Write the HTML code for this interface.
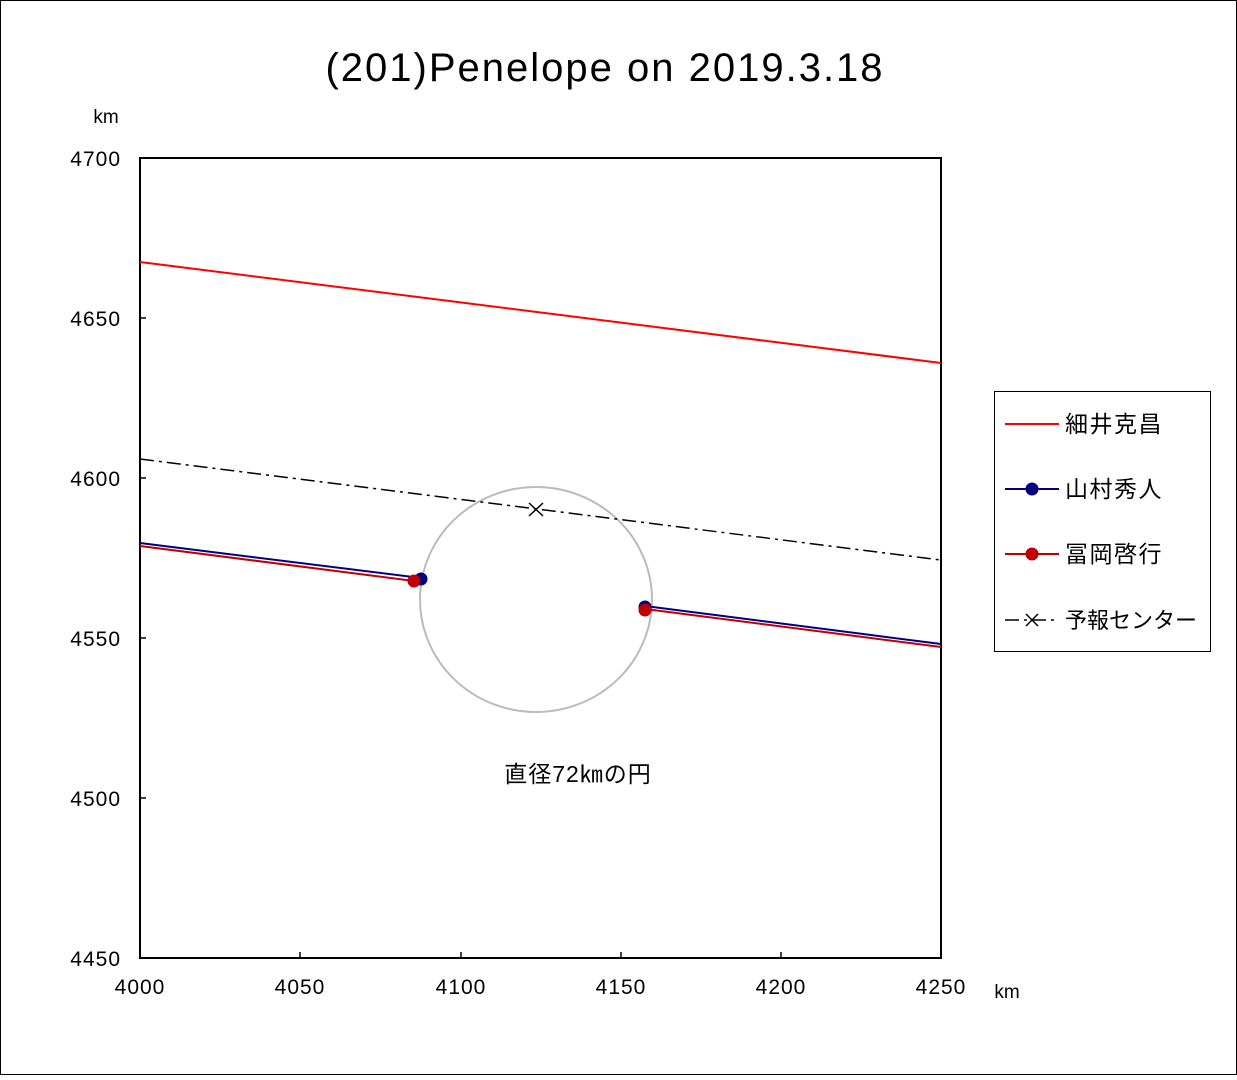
<!DOCTYPE html>
<html><head><meta charset="utf-8"><style>
html,body{margin:0;padding:0;background:#fff}
</style></head><body>
<svg width="1237" height="1075" xmlns="http://www.w3.org/2000/svg" font-family="'Liberation Sans','Noto Sans CJK JP',sans-serif">
<rect x="0.5" y="0.5" width="1236" height="1074" fill="#fff" stroke="#000"/>
<text x="605" y="81" font-size="40" text-anchor="middle" letter-spacing="2">(201)Penelope on 2019.3.18</text>
<text x="106" y="123" font-size="19" text-anchor="middle">km</text>
<text x="1007" y="998" font-size="19" text-anchor="middle">km</text>
<rect x="140" y="158" width="801" height="800" fill="none" stroke="#000" stroke-width="2"/>
<g font-size="21" text-anchor="end" letter-spacing="1">
<text x="121" y="166">4700</text><text x="121" y="326">4650</text><text x="121" y="486">4600</text>
<text x="121" y="646">4550</text><text x="121" y="806">4500</text><text x="121" y="966">4450</text>
</g>
<g font-size="21" text-anchor="middle" letter-spacing="1">
<text x="140" y="994">4000</text><text x="300" y="994">4050</text><text x="461" y="994">4100</text>
<text x="621" y="994">4150</text><text x="781" y="994">4200</text><text x="941" y="994">4250</text>
</g>
<g stroke="#000" stroke-width="1.5">
<line x1="140" y1="318" x2="146" y2="318"/><line x1="140" y1="478" x2="146" y2="478"/>
<line x1="140" y1="638" x2="146" y2="638"/><line x1="140" y1="798" x2="146" y2="798"/>
<line x1="300" y1="958" x2="300" y2="952"/><line x1="461" y1="958" x2="461" y2="952"/>
<line x1="621" y1="958" x2="621" y2="952"/><line x1="781" y1="958" x2="781" y2="952"/>
</g>
<ellipse cx="536" cy="599.5" rx="116" ry="112.5" fill="none" stroke="#bbb" stroke-width="2"/>
<line x1="140" y1="262" x2="941" y2="363" stroke="#f00" stroke-width="2"/>
<line x1="140" y1="459" x2="941" y2="560" stroke="#000" stroke-width="1.5" stroke-dasharray="14,5,3,5"/>
<path d="M529,503 l14,13 M543,503 l-14,13" stroke="#000" stroke-width="1.5"/>
<g stroke="#000080" stroke-width="2"><line x1="140" y1="543" x2="421" y2="578"/><line x1="645" y1="606" x2="941" y2="644"/></g>
<g stroke="#c00000" stroke-width="2"><line x1="140" y1="546" x2="414" y2="581"/><line x1="645" y1="609" x2="941" y2="647"/></g>
<circle cx="421" cy="579" r="6.5" fill="#000080"/><circle cx="645" cy="607" r="6.5" fill="#000080"/>
<circle cx="414" cy="581" r="6.5" fill="#c00000"/><circle cx="645" cy="610" r="6.5" fill="#c00000"/>
<text x="578" y="782" font-size="23" text-anchor="middle" letter-spacing="1">直径72㎞の円</text>
<rect x="994.5" y="391.5" width="216" height="260" fill="#fff" stroke="#000"/>
<g font-size="23" letter-spacing="1.5">
<line x1="1005" y1="424" x2="1059" y2="424" stroke="#f00" stroke-width="2"/><text x="1065" y="432">細井克昌</text>
<line x1="1005" y1="489" x2="1059" y2="489" stroke="#000080" stroke-width="2"/><circle cx="1032" cy="489" r="6.5" fill="#000080"/><text x="1065" y="497">山村秀人</text>
<line x1="1005" y1="554" x2="1059" y2="554" stroke="#c00000" stroke-width="2"/><circle cx="1032" cy="554" r="6.5" fill="#c00000"/><text x="1065" y="562">冨岡啓行</text>
<line x1="1005" y1="620" x2="1059" y2="620" stroke="#000" stroke-width="1.5" stroke-dasharray="14,5,3,5"/><path d="M1026,614 l12,12 M1038,614 l-12,12" stroke="#000" stroke-width="1.5"/>
<text x="1065" y="628" font-size="22" letter-spacing="0">予報センター</text>
</g>
</svg>
</body></html>
